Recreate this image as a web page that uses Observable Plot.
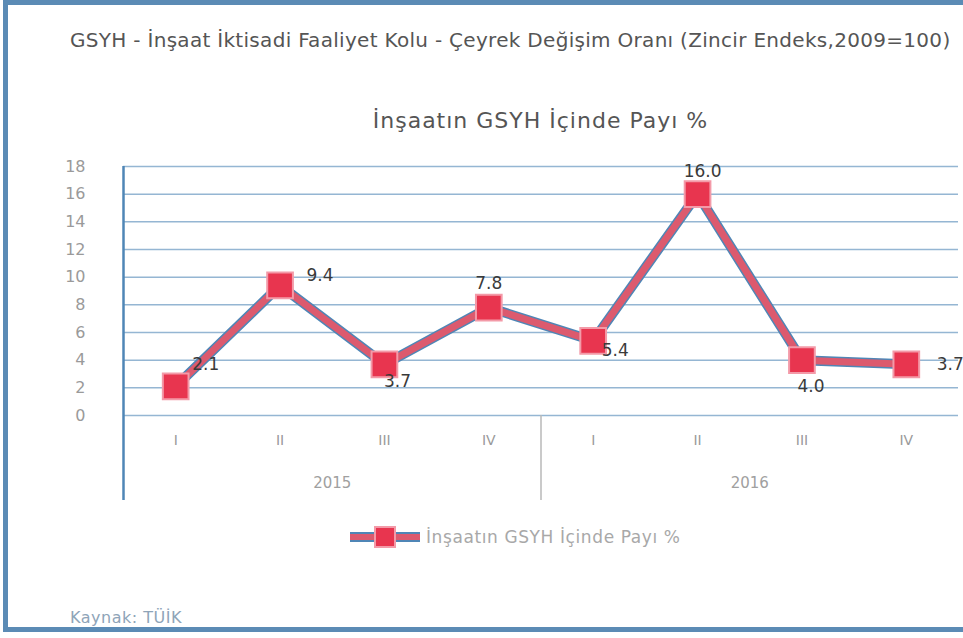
<!DOCTYPE html>
<html>
<head>
<meta charset="utf-8">
<script src="https://cdn.jsdelivr.net/npm/d3@7"></script>
<script src="https://cdn.jsdelivr.net/npm/@observablehq/plot@0.6"></script>
<style>
  html, body { margin: 0; padding: 0; background: #fff; overflow: hidden; }
  #page { position: relative; width: 963px; height: 638px; overflow: hidden; background: #fff; }
  #frame { position: absolute; left: 3px; top: 0px; width: 1000px; height: 622px;
           border-left: 5px solid #5b8bb5; border-top: 5px solid #5b8bb5; border-bottom: 5px solid #5b8bb5; }
  #chart { position: absolute; left: 0; top: 0; }
  .t { position: absolute; white-space: nowrap; font-family: "DejaVu Sans", sans-serif; }
  #title { left: 70px; top: 28px; font-size: 20px; letter-spacing: 0.3px; color: #555; }
  #subtitle { left: 0; width: 1081px; text-align: center; top: 108px; font-size: 22px; letter-spacing: 1px; color: #555; }
  #legend { left: 348px; top: 525px; font-size: 17px; letter-spacing: 0.6px; color: #a8a8a8; display: flex; align-items: center; }
  #footer { left: 70px; top: 608px; font-size: 16px; letter-spacing: 0.5px; color: #8ea4b8; }
</style>
</head>
<body>
<div id="page">
  <div id="frame"></div>
  <div id="chart"></div>
  <div class="t" id="title"></div>
  <div class="t" id="subtitle"></div>
  <div class="t" id="legend"></div>
  <div class="t" id="footer"></div>
</div>
<script>
// ---- data ----
const years = ["2015", "2016"];
const quarters = ["I", "II", "III", "IV"];
const values = [2.1, 9.4, 3.7, 7.8, 5.4, 16.0, 4.0, 3.7];
const yTicks = [0, 2, 4, 6, 8, 10, 12, 14, 16, 18];
const titleText = "GSYH - İnşaat İktisadi Faaliyet Kolu - Çeyrek Değişim Oranı (Zincir Endeks,2009=100)";
const seriesName = "İnşaatın GSYH İçinde Payı %";
const sourceText = "Kaynak: TÜİK";
// label offsets (style only)
const labelOffsets = [[30, -22], [40, -10], [13, 17], [0, -24], [22, 10], [5, -23], [9, 26], [44, 0]];

const rows = values.map((v, i) => ({i, value: v, year: years[Math.floor(i / 4)], q: quarters[i % 4]}));

const BLUE = "#4f86b6";
const PINK = "#dc5a6e";
const RED = "#e8354f";

const chart = Plot.plot({
  width: 963,
  height: 638,
  marginLeft: 123,
  marginRight: 5,
  marginTop: 166,
  marginBottom: 223,
  x: {domain: [-0.5, 7.5], axis: null},
  y: {domain: [0, 18], axis: null},
  style: {background: "transparent", fontFamily: "DejaVu Sans, sans-serif", fontSize: "15px"},
  marks: [
    Plot.gridY(yTicks, {stroke: BLUE, strokeOpacity: 0.6, strokeWidth: 1.5}),
    Plot.axisY(yTicks, {tickSize: 0, tickPadding: 38, fill: "#9a9a9a", fontSize: 16, label: null}),
    Plot.axisX(d3.range(8), {tickSize: 0, tickPadding: 20, tickFormat: i => quarters[i % 4], fill: "#9a9a9a", fontSize: 14, label: null}),
    Plot.ruleX([-0.5], {stroke: BLUE, strokeWidth: 2.5}),
    Plot.axisX([-0.5], {tickSize: 85, tickFormat: () => "", stroke: BLUE, strokeWidth: 2.5, label: null}),
    Plot.axisX([3.5], {tickSize: 85, tickFormat: () => "", stroke: "#b8b8b8", strokeWidth: 1.5, label: null}),
    Plot.text(years, {x: (d, k) => k * 4 + 1.5, text: d => d, frameAnchor: "bottom", dy: 72, fill: "#a0a0a0", fontSize: 15}),
    Plot.line(rows, {x: "i", y: "value", stroke: BLUE, strokeWidth: 10, strokeLinejoin: "round"}),
    Plot.line(rows, {x: "i", y: "value", stroke: PINK, strokeWidth: 7, strokeLinejoin: "round"}),
    Plot.dot(rows, {x: "i", y: "value", symbol: "square", r: 14.5, fill: RED, stroke: "#f39aa8", strokeWidth: 2}),
    ...rows.map((r, k) => Plot.text([r], {
      x: "i", y: "value", text: d => d.value.toFixed(1),
      dx: labelOffsets[k][0], dy: labelOffsets[k][1],
      fill: "#3a3a3a", fontSize: 17
    }))
  ]
});
document.getElementById("chart").append(chart);

document.getElementById("title").textContent = titleText;
document.getElementById("subtitle").textContent = seriesName;
document.getElementById("footer").textContent = sourceText;

// legend
const leg = document.getElementById("legend");
const ns = "http://www.w3.org/2000/svg";
const ls = document.createElementNS(ns, "svg");
ls.setAttribute("width", 74); ls.setAttribute("height", 24);
ls.innerHTML = `<line x1="2" x2="72" y1="12" y2="12" stroke="${BLUE}" stroke-width="10"/>
<line x1="2" x2="72" y1="12" y2="12" stroke="${PINK}" stroke-width="6"/>
<rect x="27" y="2" width="20" height="20" fill="${RED}" stroke="#f39aa8" stroke-width="2"/>`;
leg.append(ls);
const lt = document.createElement("span");
lt.textContent = seriesName;
lt.style.marginLeft = "4px";
leg.append(lt);
</script>
</body>
</html>
